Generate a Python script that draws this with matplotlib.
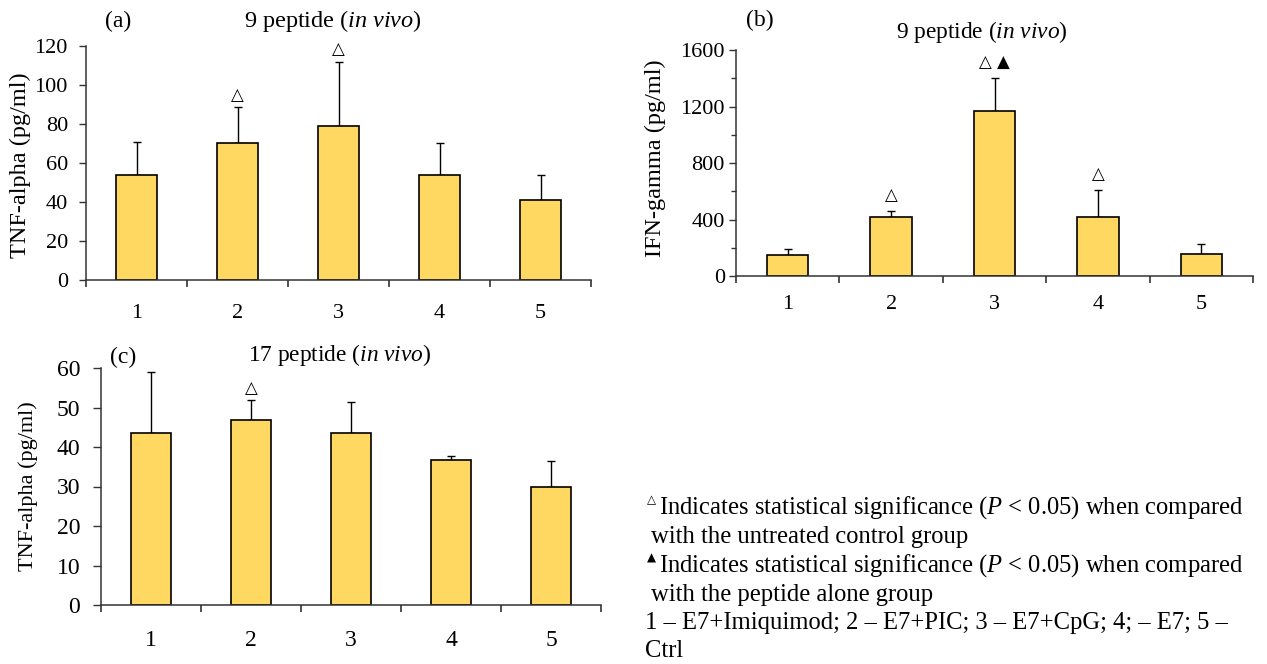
import matplotlib
matplotlib.use("Agg")
import matplotlib.pyplot as plt
import numpy as np

plt.rcParams['font.family'] = ['Liberation Serif', 'DejaVu Serif', 'DejaVu Sans']
plt.rcParams['mathtext.fontset'] = 'custom'
plt.rcParams['mathtext.it'] = 'Liberation Serif:italic'
plt.rcParams['mathtext.rm'] = 'Liberation Serif'

categories = ["1", "2", "3", "4", "5"]

# (a) TNF-alpha, 9 peptide
a_vals = [54, 70.5, 79, 54, 41]
a_err = [17, 18, 33, 16.5, 13]
a_marks = ["", "△", "△", "", ""]

# (b) IFN-gamma, 9 peptide
b_vals = [149, 418, 1168, 416, 154]
b_err = [42, 42, 234, 196, 75]
b_marks = ["", "△", "△ ▲", "△", ""]

# (c) TNF-alpha, 17 peptide
c_vals = [43.5, 46.8, 43.5, 36.8, 30]
c_err = [15.5, 5.2, 7.8, 0.8, 6.5]
c_marks = ["", "△", "", "", ""]

W, H = 1267, 664
fig = plt.figure(figsize=(W / 100, H / 100), dpi=100)

def px_axes(l, r, t, b):
    return fig.add_axes([l / W, 1 - b / H, (r - l) / W, (b - t) / H])

BAR = "#FFD862"
AXC = "#333333"

def draw(ax, vals, errs, marks, ymax, major, minor, mark_off, tfs, ypad, ylen, xpad):
    x = np.arange(len(vals))
    ax.bar(x, vals, width=0.4, color=BAR, edgecolor="black", linewidth=1.2, zorder=2)
    ax.errorbar(x, vals, yerr=[np.zeros(len(vals)), errs], fmt="none",
                ecolor="black", elinewidth=1.0, capsize=3, capthick=1.0, zorder=1)
    for xi, v, e, m in zip(x, vals, errs, marks):
        if m:
            ax.annotate(m, (xi, v + e), xytext=(0, mark_off), textcoords="offset points",
                        ha="center", va="bottom", fontsize=12,
                        family=["DejaVu Sans"])
    ax.set_xlim(-0.5, len(vals) - 0.5)
    ax.set_ylim(0, ymax)
    ax.set_yticks(np.arange(0, ymax + 1e-9, major))
    if minor:
        ax.set_yticks(np.arange(0, ymax + 1e-9, minor), minor=True)
        ax.tick_params(axis="y", which="minor", length=ylen - 1.5, width=1, direction="out", color=AXC)
    ax.set_xticks(np.arange(-0.5, len(vals), 1.0))
    ax.set_xticklabels([])
    ax.set_xticks(x, minor=True)
    ax.set_xticklabels(categories, minor=True)
    ax.tick_params(axis="x", which="major", length=5, width=1.2, direction="out", color=AXC)
    ax.tick_params(axis="x", which="minor", length=0, pad=xpad, labelsize=tfs)
    ax.tick_params(axis="y", which="major", length=ylen, width=1, direction="out",
                   labelsize=tfs, pad=ypad, color=AXC)
    for s in ("top", "right"):
        ax.spines[s].set_visible(False)
    for s in ("left", "bottom"):
        ax.spines[s].set_linewidth(1.1)
        ax.spines[s].set_color(AXC)

axa = px_axes(86, 591, 46, 280)
draw(axa, a_vals, a_err, a_marks, 120, 20, None, 2.5, 16, 8, 5, 17)
axb = px_axes(736, 1253, 50, 276)
draw(axb, b_vals, b_err, b_marks, 1600, 400, 200, 5, 16, 3, 5, 14)
axc = px_axes(101, 601, 368, 605)
draw(axc, c_vals, c_err, c_marks, 60, 10, None, 2, 17, 9, 6, 18)

def ylab(x, y, t, fs):
    fig.text(x / W, 1 - y / H, t, rotation=90, fontsize=fs, ha="center", va="center")

ylab(20, 165, "TNF-alpha (pg/ml)", 17.5)
ylab(655, 158, "IFN-gamma (pg/ml)", 17.5)
ylab(28, 486, "TNF-alpha (pg/ml)", 16)

def ftext(x, y, t, fs, ha="center"):
    fig.text(x / W, 1 - y / H, t, fontsize=fs, ha=ha, va="center")

ftext(118, 21, "(a)", 17)
ftext(333, 21, r"9 peptide ($\mathit{in\ vivo}$)", 17.5)
ftext(760, 20, "(b)", 17)
ftext(982, 32, r"9 peptide ($\mathit{in\ vivo}$)", 16.8)
ftext(123, 357, "(c)", 17)
ftext(340, 355, r"17 peptide ($\mathit{in\ vivo}$)", 16.8)

LFS = 17.7
fig.text(647 / W, 1 - 500 / H, "△", fontsize=8.5, ha="left", va="center", family=["DejaVu Sans"])
fig.text(647 / W, 1 - 558 / H, "▲", fontsize=8.5, ha="left", va="center", family=["DejaVu Sans"])
ftext(659, 508, r"Indicates statistical significance ($\mathit{P}$ < 0.05) when compared", LFS, "left")
ftext(651, 537, "with the untreated control group", LFS, "left")
ftext(659, 566, r"Indicates statistical significance ($\mathit{P}$ < 0.05) when compared", LFS, "left")
ftext(651, 595, "with the peptide alone group", LFS, "left")
ftext(645, 623, "1 – E7+Imiquimod; 2 – E7+PIC; 3 – E7+CpG; 4; – E7; 5 –", LFS, "left")
ftext(645, 651, "Ctrl", LFS, "left")

fig.savefig("out.png", dpi=100)
